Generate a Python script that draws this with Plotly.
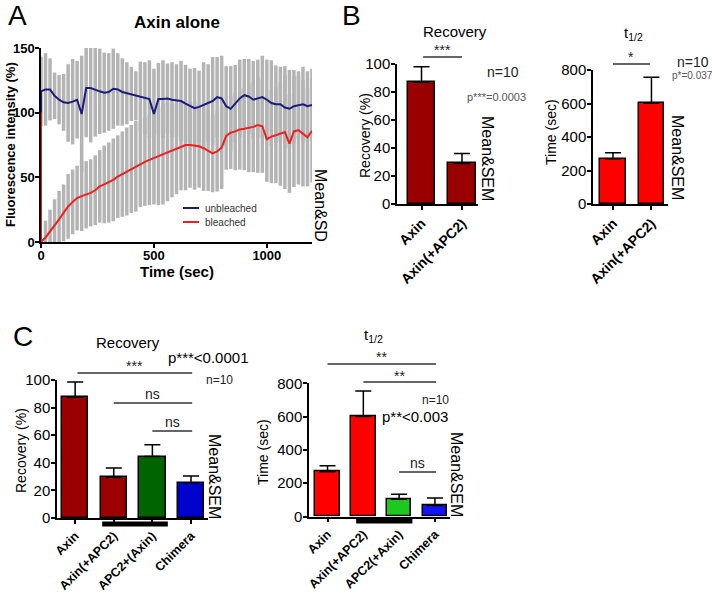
import plotly.graph_objects as go

W, H = 712, 593
def px(x): return x / W
def py(y): return 1 - y / H

FONT = "Liberation Sans"

# ---------------- Panel A data ----------------
prebleach_time = [0]
prebleach_value = [100]
time_s = [0, 20, 40, 60, 80, 100, 120, 140, 160, 180, 200, 220, 240, 260, 280, 300,
          320, 340, 360, 380, 400, 420, 440, 460, 480, 500, 520, 540, 560, 580, 600,
          620, 640, 660, 680, 700, 720, 740, 760, 780, 800, 820, 840, 860, 880, 900,
          920, 940, 960, 980, 1000, 1020, 1040, 1060, 1080, 1100, 1120, 1140, 1160, 1180, 1200]
unbleached_mean = [116.5, 118, 118, 113, 110, 108, 107.5, 108.5, 110, 99, 119, 119, 117.5, 116.5, 115.5, 116,
                   118.5, 118, 116, 115, 114.5, 113, 112.5, 111, 110.5, 99, 110.5, 110.5, 111, 110, 109.5,
                   109, 107, 105, 103.5, 104.5, 106, 107.5, 109, 112, 111, 105, 103, 107, 111, 113.5,
                   112.5, 110, 111, 112, 110, 107.5, 106.5, 106.5, 104, 103, 105, 106, 106.5, 105, 106]
unbleached_sd = [27, 28, 24, 18, 19, 22, 30, 33, 30, 45, 38, 42, 36, 33, 31, 30,
                 31, 28, 26, 24, 21, 19, 27, 28, 30, 35, 28, 30, 27, 29, 28,
                 31, 30, 29, 31, 28, 33, 30, 34, 31, 33, 31, 33, 30, 30, 28,
                 29, 30, 30, 32, 31, 33, 30, 29, 32, 30, 28, 26, 29, 27, 28]
bleached_mean = [0, 3.5, 8, 13, 17.5, 22.5, 27.5, 31, 34, 35.5, 36.5, 38, 40, 43, 44.5, 46,
                 48, 50.5, 52.5, 54.5, 56.5, 58.5, 60, 62, 63.5, 65, 66.5, 68, 69.5, 70.5, 72,
                 74, 75, 75, 74.5, 74, 72.5, 70.5, 68.5, 70, 73, 82, 84.5, 85.5, 87, 87.5,
                 88, 89, 90.5, 89.5, 79.5, 81.5, 82.5, 83.5, 85, 76, 85.5, 86.5, 84, 81, 86]
bleached_sd = [0, 13, 17, 20, 22, 22, 25, 25, 25, 27, 26, 26, 27, 28, 30, 31,
               32, 32, 33, 34, 34, 35, 33, 34, 35, 36, 38, 39, 38, 36, 35,
               34, 35, 33, 34, 32, 33, 31, 30, 31, 32, 26, 28, 30, 31, 32,
               34, 35, 37, 36, 33, 36, 37, 40, 44, 38, 43, 42, 41, 38, 40]
series_names = ["unbleached", "bleached"]
series_colors = ["#1c1c80", "#ee2020"]

# ---------------- Panel B data ----------------
B_categories = ["Axin", "Axin(+APC2)"]
B_recovery = [87, 29]
B_recovery_sem = [11, 7]
B_thalf = [270, 601]
B_thalf_sem = [36, 155]

# ---------------- Panel C data ----------------
C_rec_categories = ["Axin", "Axin(+APC2)", "APC2+(Axin)", "Chimera"]
C_recovery = [87.5, 29.5, 44.5, 25.5]
C_recovery_sem = [11, 6.7, 8.5, 5]
C_thalf_categories = ["Axin", "Axin(+APC2)", "APC2(+Axin)", "Chimera"]
C_thalf = [269, 600, 103, 66]
C_thalf_sem = [36, 154, 30, 45]

DARKRED = "#9b0000"
RED = "#ff0000"
C_rec_colors = [DARKRED, DARKRED, "#006400", "#0000cc"]
C_thalf_colors = [RED, RED, "#1ec81e", "#1414f0"]
B_rec_colors = [DARKRED, DARKRED]
B_thalf_colors = [RED, RED]

fig = go.Figure()

# --- Panel A: SD bars (gray) first, then mean lines
for mean, sd in ((unbleached_mean, unbleached_sd), (bleached_mean, bleached_sd)):
    fig.add_trace(go.Scatter(
        x=time_s, y=mean, mode="markers",
        marker=dict(size=1, opacity=0),
        error_y=dict(type="data", array=sd, visible=True, color="#b4b4b4",
                     thickness=3.5, width=0),
        showlegend=False, hoverinfo="skip", xaxis="x", yaxis="y"))

for name, color, mean in zip(series_names, series_colors, (unbleached_mean, bleached_mean)):
    fig.add_trace(go.Scatter(
        x=prebleach_time + time_s, y=prebleach_value + mean, mode="lines",
        line=dict(color=color, width=2), name=name, showlegend=False,
        xaxis="x", yaxis="y"))

def add_bars(cats, vals, sems, colors, xa, ya, width):
    fig.add_trace(go.Bar(
        x=cats, y=vals, marker=dict(color=colors, line=dict(color="black", width=1.5)),
        width=width,
        error_y=dict(type="data", array=sems, arrayminus=[0] * len(sems), symmetric=False,
                     color="black", thickness=1.5, width=8),
        showlegend=False, xaxis=xa, yaxis=ya))

add_bars(B_categories, B_recovery, B_recovery_sem, B_rec_colors, "x2", "y2", 0.67)
add_bars(B_categories, B_thalf, B_thalf_sem, B_thalf_colors, "x3", "y3", 0.67)
add_bars(C_rec_categories, C_recovery, C_recovery_sem, C_rec_colors, "x4", "y4", 0.68)
add_bars(C_thalf_categories, C_thalf, C_thalf_sem, C_thalf_colors, "x5", "y5", 0.68)

axis_common = dict(showline=True, linecolor="black", linewidth=1.5, ticks="outside",
                   ticklen=4, tickwidth=1.5, tickcolor="black", showgrid=False,
                   zeroline=False, fixedrange=True, automargin=False)
bold_tick = dict(family=FONT, size=13, color="black", weight="bold")
num_tick = dict(family=FONT, size=15, color="black")
cat_tick_b = dict(family=FONT, size=14, color="black", weight="bold")
cat_tick_c = dict(family=FONT, size=12.5, color="black", weight="bold")

fig.update_layout(
    width=W, height=H, margin=dict(l=0, r=0, t=0, b=0, pad=0, autoexpand=False),
    paper_bgcolor="white", plot_bgcolor="white",
    bargap=0, showlegend=False,
    xaxis=dict(domain=[px(41), px(312)], range=[0, 1200], tickvals=[0, 500, 1000],
               tickfont=bold_tick, anchor="y", ticklabelstandoff=-3, **axis_common),
    yaxis=dict(domain=[py(242), py(48)], range=[0, 150], tickvals=[0, 50, 100, 150],
               tickfont=bold_tick, anchor="x", ticklabelstandoff=-2, **axis_common),
    xaxis2=dict(domain=[px(397), px(478)], range=[-0.605, 1.395], type="category",
                tickangle=-45, tickfont=cat_tick_b, anchor="y2", **axis_common),
    yaxis2=dict(domain=[py(204), py(64)], range=[0, 100], tickvals=[0, 20, 40, 60, 80, 100],
                tickfont=num_tick, anchor="x2", ticklabelstandoff=-2, **axis_common),
    xaxis3=dict(domain=[px(593), px(668)], range=[-0.52, 1.43], type="category",
                tickangle=-45, tickfont=cat_tick_b, anchor="y3", **axis_common),
    yaxis3=dict(domain=[py(204), py(70)], range=[0, 800], tickvals=[0, 200, 400, 600, 800],
                tickfont=num_tick, anchor="x3", ticklabelstandoff=-2, **axis_common),
    xaxis4=dict(domain=[px(57), px(208)], range=[-0.47, 3.44], type="category",
                tickangle=-45, tickfont=cat_tick_c, anchor="y4", **axis_common),
    yaxis4=dict(domain=[py(518), py(380)], range=[0, 100], tickvals=[0, 20, 40, 60, 80, 100],
                tickfont=num_tick, anchor="x4", ticklabelstandoff=-2, **axis_common),
    xaxis5=dict(domain=[px(309), px(450)], range=[-0.517, 3.42], type="category",
                tickangle=-45, tickfont=cat_tick_c, anchor="y5", **axis_common),
    yaxis5=dict(domain=[py(516.5), py(383.3)], range=[0, 800], tickvals=[0, 200, 400, 600, 800],
                tickfont=num_tick, anchor="x5", ticklabelstandoff=-2, **axis_common),
)

# significance brackets: (x axis, from category index, to category index, y px, label, label y px, size)
brackets = [
    ("x2", 0.04, 1.0, 57, "***", 50, 14),
    ("x3", 0.0, 0.96, 64, "*", 57, 14),
    ("x4", 0.06, 3.03, 373, "***", 366, 14),
    ("x4", 1.0, 3.03, 403, "ns", 394, 14),
    ("x4", 2.0, 3.03, 431, "ns", 422, 14),
    ("x5", 0.0, 3.03, 364, "**", 357, 14),
    ("x5", 1.0, 3.03, 382, "**", 376, 14),
    ("x5", 2.0, 3.03, 472, "ns", 463, 14),
]
for xa, c0, c1, ypx, label, lypx, size in brackets:
    fig.add_shape(type="line", xref=xa, yref="paper", x0=c0, x1=c1, y0=py(ypx), y1=py(ypx),
                  line=dict(color="#333", width=1.5))
    fig.add_annotation(xref=xa, yref="paper", x=(c0 + c1) / 2, y=py(lypx), text=label,
                       showarrow=False, font=dict(family=FONT, size=size, color="#222"),
                       xanchor="center", yanchor="middle")

# group bars under the axis (co-expression marks)
group_marks = [("x4", 0.70, 2.40, 521.5, 526.5), ("x5", 0.80, 2.37, 518.5, 523.5)]
for xa, c0, c1, y0, y1 in group_marks:
    fig.add_shape(type="rect", xref=xa, yref="paper", x0=c0, x1=c1, y0=py(y1), y1=py(y0),
                  fillcolor="black", line=dict(width=0))

def ann(text, x, y, size, angle=0, weight="normal", color="black", xanchor="center"):
    fig.add_annotation(xref="paper", yref="paper", x=px(x), y=py(y), text=text,
                       showarrow=False, textangle=angle, xanchor=xanchor, yanchor="middle",
                       font=dict(family=FONT, size=size, color=color, weight=weight))

# Panel A legend (line swatch + label)
for i, (name, color) in enumerate(zip(series_names, series_colors)):
    ly = 208 + 14 * i
    fig.add_shape(type="line", xref="paper", yref="paper", x0=px(183), x1=px(199),
                  y0=py(ly), y1=py(ly), line=dict(color=color, width=2))
    ann(name, 203, ly, 10, color="#333", xanchor="left")

# Panel letters
ann("A", 17, 15, 28)
ann("B", 351, 16, 28)
ann("C", 23, 336, 28)

# Panel A texts
ann("Axin alone", 177, 23, 17, weight="bold")
ann("Time (sec)", 177, 272, 15, weight="bold")
ann("Fluorescence intensity (%)", 10, 145, 13, angle=-90, weight="bold")
ann("Mean&SD", 320, 205, 16, angle=90)

# Panel B texts
ann("Recovery", 455, 32, 15)
ann("Recovery (%)", 365, 135, 14, angle=-90)
ann("n=10", 503, 72, 14, color="#222")
ann("p***=0.0003", 497, 97, 11, color="#555")
ann("Mean&SEM", 488, 158, 16, angle=90)
ann("t<sub>1/2</sub>", 633, 33, 15)
ann("Time (sec)", 551, 132, 14, angle=-90)
ann("n=10", 693, 62, 14, color="#222")
ann("p*=0.037", 692, 76, 10, color="#555")
ann("Mean&SEM", 678, 157, 16, angle=90)

# Panel C texts
ann("Recovery", 128, 342, 15)
ann("p***<0.0001", 208, 357, 15)
ann("n=10", 219, 380, 12, color="#222")
ann("Mean&SEM", 215, 476, 16, angle=90)
ann("Recovery (%)", 21, 451, 14, angle=-90)
ann("t<sub>1/2</sub>", 373, 335, 15)
ann("n=10", 435, 400, 12, color="#222")
ann("p**<0.003", 415, 416, 15)
ann("Mean&SEM", 457, 474, 16, angle=90)
ann("Time (sec)", 263, 452, 14, angle=-90)

fig.write_html("out.html", config={"displayModeBar": False},
               post_script="document.body.style.margin='0';document.body.style.padding='0';")
